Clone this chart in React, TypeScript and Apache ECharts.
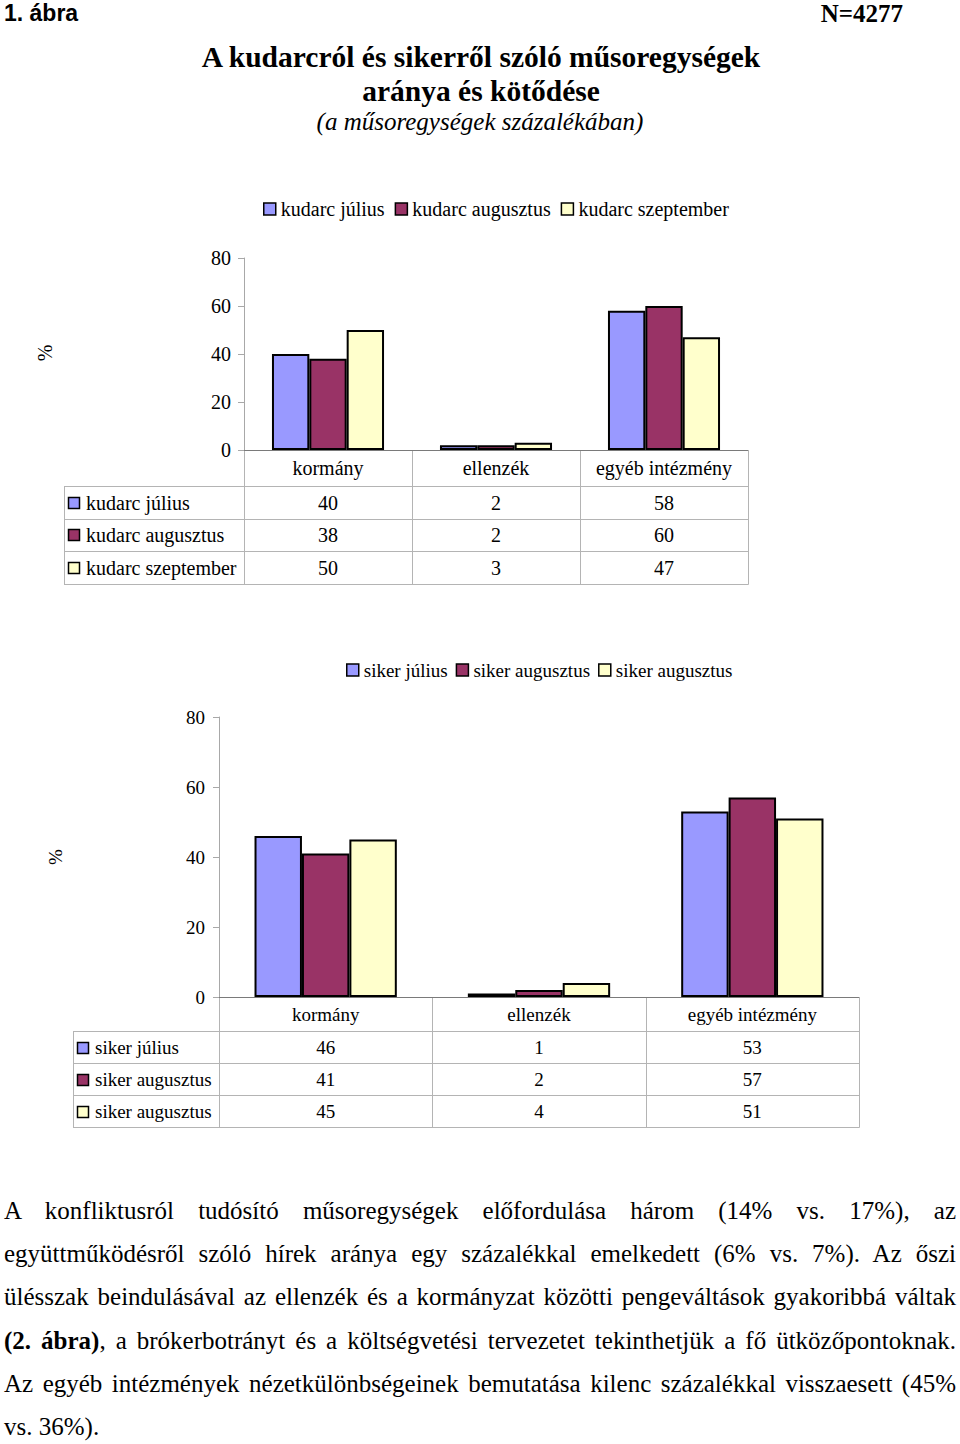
import React, { useEffect, useRef } from 'react';
import * as echarts from 'echarts';

// ---------- data ----------
const categories = ['kormány', 'ellenzék', 'egyéb intézmény'];

const kudarcNames = ['kudarc július', 'kudarc augusztus', 'kudarc szeptember'];
const kudarcJulius = [40, 2, 58];
const kudarcAugusztus = [38, 2, 60];
const kudarcSzeptember = [50, 3, 47];

const sikerNames = ['siker július', 'siker augusztus', 'siker szeptember'];
const sikerLabels = ['siker július', 'siker augusztus', 'siker augusztus'];
const sikerJulius = [46, 1, 53];
const sikerAugusztus = [41, 2, 57];
const sikerSzeptember = [45, 4, 51];

const yMin = 0;
const yMax = 80;
const yStep = 20;

const seriesColors = ['#9999FF', '#993366', '#FFFFCC'];

const paragraphLines = [
  { bold: '', text: 'A konfliktusról tudósító műsoregységek előfordulása három (14% vs. 17%), az' },
  { bold: '', text: 'együttműködésről szóló hírek aránya egy százalékkal emelkedett (6% vs. 7%). Az őszi' },
  { bold: '', text: 'ülésszak beindulásával az ellenzék és a kormányzat közötti pengeváltások gyakoribbá váltak' },
  { bold: '(2. ábra)', text: ', a brókerbotrányt és a költségvetési tervezetet tekinthetjük a fő ütközőpontoknak.' },
  { bold: '', text: 'Az egyéb intézmények nézetkülönbségeinek bemutatása kilenc százalékkal visszaesett (45%' },
  { bold: '', text: 'vs. 36%).' },
];

// ---------- layout ----------
const SERIF = '"Liberation Serif", "Times New Roman", serif';
const SANS = '"Liberation Sans", Arial, sans-serif';

const L1 = {
  gridLeft: 244, gridTop: 258, gridW: 504, gridH: 192,
  tableLeft: 64, headerH: 36, rowH: 32.5, font: 20,
  legendLeft: 263, legendTop: 199, legendGap: 10,
  pctX: 45, pctY: 353, yLabelMargin: 13, xLabelMargin: 8,
};
const L2 = {
  gridLeft: 219, gridTop: 717, gridW: 640, gridH: 280,
  tableLeft: 73, headerH: 34, rowH: 32, font: 19,
  legendLeft: 346, legendTop: 660.5, legendGap: 8,
  pctX: 55, pctY: 857, yLabelMargin: 14, xLabelMargin: 7.5,
};

const TABLE_STROKE = '#b4b4b4';

function tableGraphics(L: any, labels: string[], values: number[][]) {
  const els: any[] = [];
  const x1 = L.gridLeft + L.gridW;
  const yAxis0 = L.gridTop + L.gridH;
  const yHead = yAxis0 + L.headerH;
  const n = values.length;
  const yEnd = Math.round(yHead + n * L.rowH) + 0.5;
  const catW = L.gridW / categories.length;
  const line = (xa: number, ya: number, xb: number, yb: number) => ({
    type: 'line',
    silent: true,
    shape: { x1: xa, y1: ya, x2: xb, y2: yb },
    style: { stroke: TABLE_STROKE, lineWidth: 1 },
  });
  for (let i = 0; i <= n; i++) {
    const y = Math.round(yHead + i * L.rowH) + 0.5;
    els.push(line(L.tableLeft, y, x1 + 0.5, y));
  }
  els.push(line(L.tableLeft + 0.5, Math.round(yHead) + 0.5, L.tableLeft + 0.5, yEnd));
  for (let j = 0; j <= categories.length; j++) {
    const x = Math.round(L.gridLeft + j * catW) + 0.5;
    els.push(line(x, yAxis0 + 0.5, x, yEnd));
  }
  for (let i = 0; i < n; i++) {
    const cy = yHead + (i + 0.5) * L.rowH + 0.5;
    els.push({
      type: 'rect',
      silent: true,
      shape: { x: L.tableLeft + 4.5, y: Math.round(cy - 6) + 0.5, width: 11, height: 11 },
      style: { fill: seriesColors[i], stroke: '#000', lineWidth: 1.5 },
    });
    els.push({
      type: 'text',
      silent: true,
      x: L.tableLeft + 22,
      y: cy,
      style: { text: labels[i], fontSize: L.font, fontFamily: SERIF, fill: '#000', align: 'left', verticalAlign: 'middle' },
    });
    for (let j = 0; j < categories.length; j++) {
      els.push({
        type: 'text',
        silent: true,
        x: L.gridLeft + (j + 0.5) * catW,
        y: cy,
        style: { text: String(values[i][j]), fontSize: L.font, fontFamily: SERIF, fill: '#000', align: 'center', verticalAlign: 'middle' },
      });
    }
  }
  els.push({
    type: 'text',
    silent: true,
    x: L.pctX,
    y: L.pctY,
    rotation: Math.PI / 2,
    style: { text: '%', fontSize: L.font, fontFamily: SERIF, fill: '#000', align: 'center', verticalAlign: 'middle' },
  });
  return els;
}

function axesFor(L: any, idx: number) {
  const grid = { left: L.gridLeft, top: L.gridTop, width: L.gridW, height: L.gridH, containLabel: false };
  const xAxis = {
    type: 'category',
    gridIndex: idx,
    data: categories,
    axisTick: { show: false },
    axisLine: { show: true, lineStyle: { color: '#7a7a7a', width: 1 } },
    axisLabel: { interval: 0, fontSize: L.font, fontFamily: SERIF, color: '#000', margin: L.xLabelMargin, lineHeight: L.font },
    splitLine: { show: false },
  };
  const yAxis = {
    type: 'value',
    gridIndex: idx,
    min: yMin,
    max: yMax,
    interval: yStep,
    axisLine: { show: true, lineStyle: { color: '#a8a8a8', width: 1 } },
    axisTick: { show: true, length: 6, lineStyle: { color: '#a8a8a8' } },
    axisLabel: { fontSize: L.font, fontFamily: SERIF, color: '#000', margin: L.yLabelMargin },
    splitLine: { show: false },
  };
  return { grid, xAxis, yAxis };
}

function barSeries(name: string, data: number[], color: string, idx: number) {
  return {
    type: 'bar',
    name,
    data,
    xAxisIndex: idx,
    yAxisIndex: idx,
    barGap: '0%',
    barCategoryGap: '33.3%',
    itemStyle: { color, borderColor: '#000', borderWidth: 2 },
    emphasis: { disabled: true },
  };
}

function legendFor(L: any, names: string[], labels: string[]) {
  return {
    data: names,
    left: L.legendLeft,
    top: L.legendTop,
    orient: 'horizontal',
    icon: 'rect',
    itemWidth: 12,
    itemHeight: 12,
    itemGap: L.legendGap,
    padding: 0,
    selectedMode: false,
    formatter: (name: string) => {
      const k = names.indexOf(name);
      return k >= 0 ? labels[k] : name;
    },
    itemStyle: { borderColor: '#000', borderWidth: 1.5 },
    textStyle: { fontSize: L.font, lineHeight: L.font, fontFamily: SERIF, color: '#000' },
  };
}

function headingGraphics() {
  return [
    {
      type: 'text', silent: true, x: 4, y: 13,
      style: { text: '1. ábra', fontSize: 23, fontWeight: 'bold', fontFamily: SANS, fill: '#000', align: 'left', verticalAlign: 'middle' },
    },
    {
      type: 'text', silent: true, x: 903, y: 13,
      style: { text: 'N=4277', fontSize: 25, fontWeight: 'bold', fontFamily: SERIF, fill: '#000', align: 'right', verticalAlign: 'middle' },
    },
    {
      type: 'text', silent: true, x: 481, y: 57,
      style: { text: 'A kudarcról és sikerről szóló műsoregységek', fontSize: 29.5, fontWeight: 'bold', fontFamily: SERIF, fill: '#000', align: 'center', verticalAlign: 'middle' },
    },
    {
      type: 'text', silent: true, x: 481, y: 91,
      style: { text: 'aránya és kötődése', fontSize: 29.5, fontWeight: 'bold', fontFamily: SERIF, fill: '#000', align: 'center', verticalAlign: 'middle' },
    },
    {
      type: 'text', silent: true, x: 480, y: 121,
      style: { text: '(a műsoregységek százalékában)', fontSize: 25, fontStyle: 'italic', fontFamily: SERIF, fill: '#000', align: 'center', verticalAlign: 'middle' },
    },
  ];
}

export default function App() {
  const ref = useRef<HTMLDivElement | null>(null);

  useEffect(() => {
    if (!ref.current) return;
    const chart = echarts.init(ref.current, undefined, { renderer: 'svg' });
    const a1 = axesFor(L1, 0);
    const a2 = axesFor(L2, 1);
    const kudarcValues = [kudarcJulius, kudarcAugusztus, kudarcSzeptember];
    const sikerValues = [sikerJulius, sikerAugusztus, sikerSzeptember];
    const option: any = {
      animation: false,
      backgroundColor: '#ffffff',
      textStyle: { fontFamily: SERIF, color: '#000' },
      legend: [legendFor(L1, kudarcNames, kudarcNames), legendFor(L2, sikerNames, sikerLabels)],
      grid: [a1.grid, a2.grid],
      xAxis: [a1.xAxis, a2.xAxis],
      yAxis: [a1.yAxis, a2.yAxis],
      series: [
        ...kudarcNames.map((n, i) => barSeries(n, kudarcValues[i], seriesColors[i], 0)),
        ...sikerNames.map((n, i) => barSeries(n, sikerValues[i], seriesColors[i], 1)),
      ],
      graphic: [
        ...headingGraphics(),
        ...tableGraphics(L1, kudarcNames, kudarcValues),
        ...tableGraphics(L2, sikerLabels, sikerValues),
      ],
    };
    chart.setOption(option);
    return () => {
      chart.dispose();
    };
  }, []);

  const lineCenters = [1214, 1257, 1300, 1344, 1387, 1430];

  return (
    <div style={{ position: 'absolute', left: 0, top: 0, width: 960, height: 1444, background: '#fff', overflow: 'hidden' }}>
      <div ref={ref} style={{ position: 'absolute', left: 0, top: 0, width: 960, height: 1444 }} />
      {paragraphLines.map((ln, i) => {
        const last = i === paragraphLines.length - 1;
        return (
          <div
            key={i}
            style={{
              position: 'absolute',
              left: 4,
              top: lineCenters[i] - 17.7,
              width: 952,
              fontFamily: SERIF,
              fontSize: 25,
              lineHeight: '30px',
              color: '#000',
              textAlign: last ? 'left' : 'justify',
              textAlignLast: last ? 'left' : 'justify',
              whiteSpace: 'nowrap',
            } as any}
          >
            {ln.bold ? <b>{ln.bold}</b> : null}
            {ln.text}
          </div>
        );
      })}
    </div>
  );
}
